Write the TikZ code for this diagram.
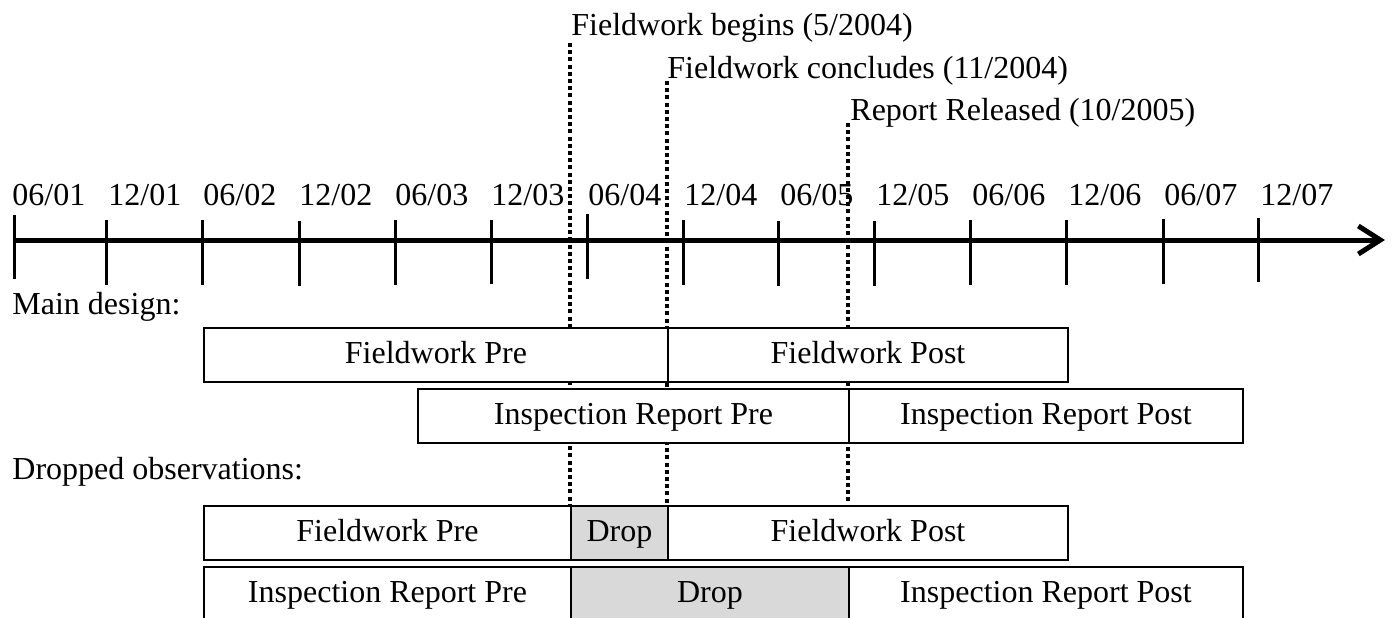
\documentclass[tikz,border=0pt]{standalone}
\usepackage{fontspec}
\setmainfont{Liberation Serif}
\usetikzlibrary{arrows.meta}
\pgfdeclarelayer{bg}
\pgfsetlayers{bg,main}
\definecolor{dropgray}{HTML}{D9D9D9}
\begin{document}
\begin{tikzpicture}[x=0.5pt,y=-0.5pt,
  font=\fontsize{16}{19}\selectfont,
  lbl/.style={anchor=base west, inner sep=0pt},
  tickline/.style={line width=1.5pt},
  axisline/.style={line width=2.5pt, -{Straight Barb[length=11pt,width=14pt]}},
  dotline/.style={line width=2pt, dash pattern=on 2pt off 1.6pt},
  bar/.style={draw, line width=1pt, fill=white, minimum height=27pt, inner sep=0pt,
    text height=0.86em, text depth=0.06em, anchor=north west},
  dropbar/.style={bar, fill=dropgray}]
\useasboundingbox (0,0) rectangle (1392,617);
\clip (0,0) rectangle (1392,617);

% axis
\coordinate (a0) at (14,240);
\coordinate (a1) at (1385,240);
\draw[axisline] (a0) -- (a1);
\foreach \x/\t/\b in {14/215/279,106/220/285,202/220/285,299/221/286,395/220/285,491/220/284,587/214/279,683/220/285,778/221/286,874/221/286,970/220/285,1066/220/285,1163/219/284,1258/218/282}
  \draw[tickline] (\x,\t) -- (\x,\b);

% axis labels
\node[lbl] (l1) at (12,205) {06/01};
\node[lbl] (l2) at (108,205) {12/01};
\node[lbl] (l3) at (203,205) {06/02};
\node[lbl] (l4) at (299,205) {12/02};
\node[lbl] (l5) at (395,205) {06/03};
\node[lbl] (l6) at (491,205) {12/03};
\node[lbl] (l7) at (588,205) {06/04};
\node[lbl] (l8) at (684,205) {12/04};
\node[lbl] (l9) at (780,205) {06/05};
\node[lbl] (l10) at (876,205) {12/05};
\node[lbl] (l11) at (972,205) {06/06};
\node[lbl] (l12) at (1068,205) {12/06};
\node[lbl] (l13) at (1164,205) {06/07};
\node[lbl] (l14) at (1260,205) {12/07};

% event labels
\node[lbl] (e1) at (571,35) {Fieldwork begins (5/2004)};
\node[lbl] (e2) at (667,78) {Fieldwork concludes (11/2004)};
\node[lbl] (e3) at (850,120) {Report Released (10/2005)};
\coordinate (v1) at (570,43);
\coordinate (v2) at (667,81);
\coordinate (v3) at (848,123);

% section labels
\node[lbl] (m) at (12,314) {Main design:};
\node[lbl] (d) at (12,479) {Dropped observations:};

% main design bars
\node[bar, minimum width=232pt] (fwpre) at (203,327) {Fieldwork Pre};
\node[bar, minimum width=200pt] (fwpost) at (667,327) {Fieldwork Post};
\node[bar, minimum width=215.5pt] (irpre) at (417,388) {Inspection Report Pre};
\node[bar, minimum width=197pt] (irpost) at (848,388) {Inspection Report Post};

% dropped observations bars
\node[bar, minimum width=183.5pt] (d1pre) at (203,505) {Fieldwork Pre};
\node[dropbar, minimum width=48.5pt] (d1drop) at (570,505) {Drop};
\node[bar, minimum width=200pt] (d1post) at (667,505) {Fieldwork Post};
\node[bar, minimum width=183.5pt] (d2pre) at (203,566) {Inspection Report Pre};
\node[dropbar, minimum width=139pt] (d2drop) at (570,566) {Drop};
\node[bar, minimum width=197pt] (d2post) at (848,566) {Inspection Report Post};

% dotted event lines (behind the bars)
\begin{pgfonlayer}{bg}
\draw[dotline] (v1) -- (v1 |- d1drop.north);
\draw[dotline] (v2) -- (v2 |- d1drop.north);
\draw[dotline] (v3) -- (v3 |- d1post.north);
\end{pgfonlayer}
\end{tikzpicture}
\end{document}
